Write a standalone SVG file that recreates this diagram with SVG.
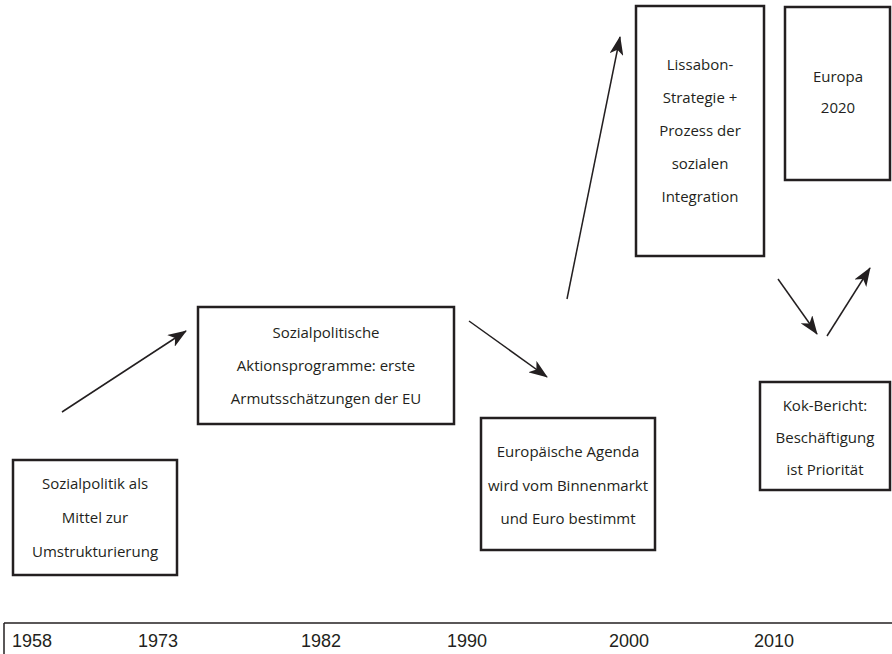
<svg xmlns="http://www.w3.org/2000/svg" width="892" height="654" viewBox="0 0 892 654">
<style>
.box{fill:#fff;stroke:#231f20;stroke-width:2.5}
.t{font-family:"Open Sans","Noto Sans",sans-serif;font-size:15px;fill:#231f20;text-anchor:middle}
.yr{font-family:"Liberation Sans",Arial,sans-serif;font-size:18px;fill:#231f20}
.arr{stroke:#231f20;stroke-width:1.5;fill:none;marker-end:url(#ah)}
</style>
<defs>
<marker id="ah" markerUnits="userSpaceOnUse" markerWidth="20" markerHeight="14" refX="18" refY="7" orient="auto" viewBox="0 0 20 14">
<path d="M0,0 L19,7 L0,14 L5,7 Z" fill="#231f20"/>
</marker>
</defs>
<rect width="892" height="654" fill="#fff"/>
<g id="connectors">
<line class="arr" x1="62" y1="412" x2="186" y2="331"/>
<line class="arr" x1="469" y1="321" x2="547" y2="377"/>
<line class="arr" x1="567" y1="299" x2="620" y2="37"/>
<line class="arr" x1="778" y1="279" x2="817" y2="334"/>
<line class="arr" x1="827" y1="336" x2="870" y2="268"/>
</g>
<g id="node1">
<rect class="box" x="13" y="460" width="164" height="115"/>
<text class="t" x="95" y="489">Sozialpolitik als</text>
<text class="t" x="95" y="523">Mittel zur</text>
<text class="t" x="95" y="557">Umstrukturierung</text>
</g>
<g id="node2">
<rect class="box" x="198" y="307" width="256" height="117"/>
<text class="t" x="326" y="338">Sozialpolitische</text>
<text class="t" x="326" y="371">Aktionsprogramme: erste</text>
<text class="t" x="326" y="404">Armutsschätzungen der EU</text>
</g>
<g id="node3">
<rect class="box" x="481" y="418" width="174" height="132"/>
<text class="t" x="568" y="457">Europäische Agenda</text>
<text class="t" x="568" y="491">wird vom Binnenmarkt</text>
<text class="t" x="568" y="524">und Euro bestimmt</text>
</g>
<g id="node4">
<rect class="box" x="636" y="6" width="128" height="250"/>
<text class="t" x="700" y="70">Lissabon-</text>
<text class="t" x="700" y="103">Strategie +</text>
<text class="t" x="700" y="136">Prozess der</text>
<text class="t" x="700" y="169">sozialen</text>
<text class="t" x="700" y="202">Integration</text>
</g>
<g id="node5">
<rect class="box" x="785" y="7" width="105" height="173"/>
<text class="t" x="838" y="82">Europa</text>
<text class="t" x="838" y="113">2020</text>
</g>
<g id="node6">
<rect class="box" x="760" y="382" width="130" height="108"/>
<text class="t" x="825" y="411">Kok-Bericht:</text>
<text class="t" x="825" y="443">Beschäftigung</text>
<text class="t" x="825" y="475">ist Priorität</text>
</g>
<g id="timeline">
<line x1="4" y1="623" x2="892" y2="623" stroke="#231f20" stroke-width="1.5"/>
<line x1="4" y1="623" x2="4" y2="654" stroke="#231f20" stroke-width="1.5"/>
<text class="yr" x="12" y="647">1958</text>
<text class="yr" x="138" y="647">1973</text>
<text class="yr" x="301" y="647">1982</text>
<text class="yr" x="447" y="647">1990</text>
<text class="yr" x="609" y="647">2000</text>
<text class="yr" x="754" y="647">2010</text>
</g>
</svg>
